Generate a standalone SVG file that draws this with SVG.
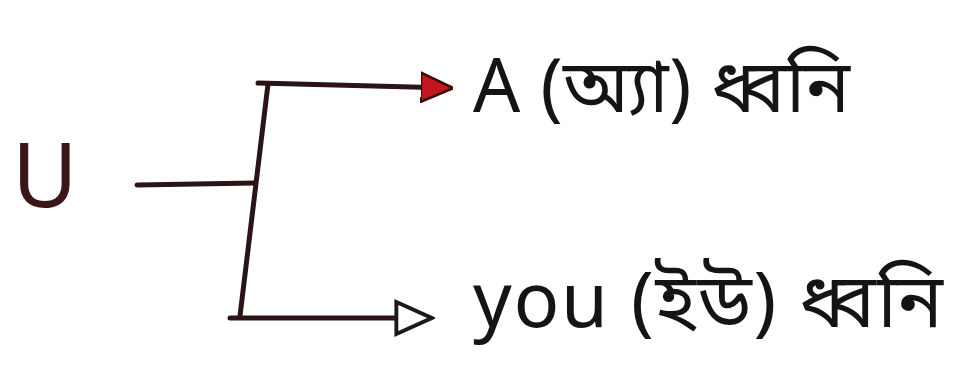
<svg xmlns="http://www.w3.org/2000/svg" width="953" height="375" viewBox="0 0 953 375">
<defs>
<style>
.ln{fill:none;stroke:#2a1416;stroke-width:5;stroke-linecap:round;stroke-linejoin:round}
.t{font-family:"Noto Sans Bengali","Noto Sans","Liberation Sans",sans-serif;fill:#141414}
</style>
<marker id="fill" viewBox="0 0 10 10" refX="9" refY="5" markerWidth="6.5" markerHeight="6.5" orient="auto" markerUnits="strokeWidth">
<path d="M0,0.5 L10,5 L0,9.5 Z" fill="#c4161c" stroke="#3a0a0a" stroke-width="0.8"/>
</marker>
<marker id="open" viewBox="0 0 12 12" refX="10.5" refY="6" markerWidth="8.5" markerHeight="8.5" orient="auto" markerUnits="strokeWidth">
<path d="M1,1.5 L11,6 L1,10.5 Z" fill="#fff" stroke="#1a1a1a" stroke-width="1.1"/>
</marker>
</defs>
<rect width="953" height="375" fill="#fff"/>
<g id="node-u">
<text class="t" x="12" y="207" font-size="90" style="fill:#3a1618">U</text>
</g>
<g id="connectors">
<path class="ln" d="M137,185 L255,183"/>
<path class="ln" d="M268,84 L240,316"/>
<path class="ln" d="M258,83 L450,88" marker-end="url(#fill)"/>
<path class="ln" d="M230,318 L430,318" marker-end="url(#open)"/>
</g>
<g id="node-a">
<text class="t" x="473" y="112" font-size="74" textLength="377" lengthAdjust="spacing">A (অ্যা) ধ্বনি</text>
</g>
<g id="node-you">
<text class="t" x="473" y="327" font-size="76" textLength="470" lengthAdjust="spacing">you (ইউ) ধ্বনি</text>
</g>
</svg>
